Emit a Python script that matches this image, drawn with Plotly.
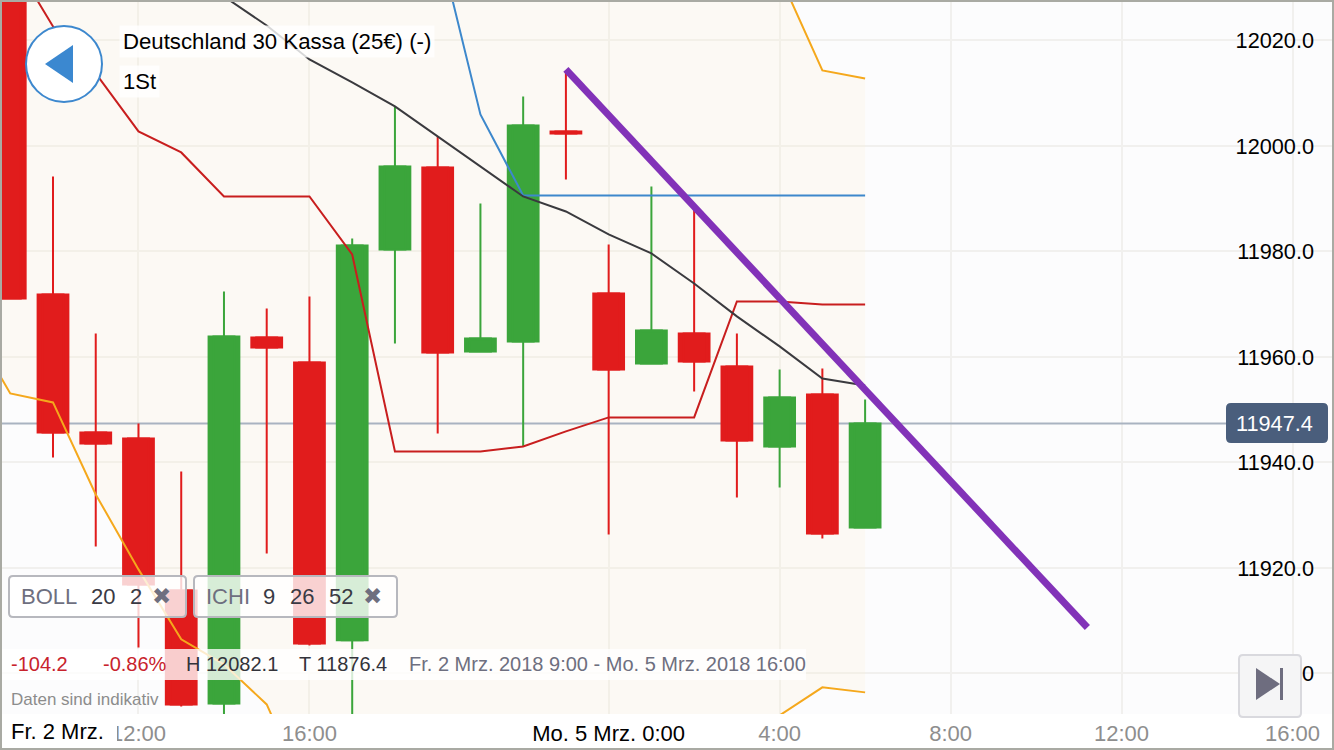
import plotly.graph_objects as go

# ---- data ----
hours = list(range(21))
band_hours = list(range(-1, 21))
opens = [12040.0, 11971.85, 11945.68, 11944.55, 11915.73, 11894.31, 11963.69, 11958.96, 11906.26, 11980.38, 11995.92,
         11961.04, 11962.94, 12002.75, 11972.04, 11958.77, 11964.45, 11958.2, 11943.03, 11952.89, 11927.68]
closes = [11971.09, 11945.68, 11943.6, 11916.87, 11894.12, 11963.88, 11961.8, 11905.69, 11981.14, 11996.11, 11960.85,
          11963.51, 12003.88, 12002.37, 11957.63, 11965.02, 11959.15, 11944.17, 11952.32, 11926.54, 11947.4]
highs = [12045.0, 11994.22, 11964.45, 11947.39, 11938.29, 11972.42, 11969.19, 11971.47, 11982.46, 12007.49, 12001.8,
         11989.1, 12009.38, 12014.12, 11981.32, 11992.32, 11988.91, 11964.45, 11957.63, 11957.82, 11951.94]
lows = [11970.9, 11940.95, 11924.07, 11904.93, 11893.74, 11891.28, 11922.75, 11905.31, 11890.33, 11962.56, 11945.5,
        11960.85, 11943.03, 11993.65, 11926.35, 11958.58, 11953.46, 11933.36, 11935.26, 11925.59, 11927.68]
boll_mid = [12061.89, 12054.31, 12047.67, 12041.04, 12034.4, 12028.34, 12022.84, 12016.4, 12012.04, 12007.49, 12001.8,
            11996.11, 11990.42, 11987.58, 11983.22, 11979.62, 11973.93, 11967.68, 11961.99, 11955.92, 11954.6]
ichi_red = [12036.11, 12022.65, 12013.74, 12002.75, 11998.77, 11990.42, 11990.42, 11990.42, 11979.43, 11942.08, 11942.08,
            11942.08, 11943.03, 11945.88, 11948.53, 11948.53, 11948.53, 11970.52, 11970.52, 11969.95, 11969.95]
ichi_blue = [None, None, None, None, None, None, None, None, None, 12052.41, 12039.14,
             12005.97, 11990.61, 11990.61, 11990.61, 11990.61, 11990.61, 11990.61, 11990.61, 11990.61, 11990.61]
boll_upper = [12070, 12072, 12070, 12066, 12062, 12058, 12056, 12055, 12054, 12054, 12053, 12052,
              12052, 12052, 12052, 12052, 12052, 12050, 12046.7, 12032.32, 12014.31, 12012.79]
boll_lower = [11967.1, 11953.08, 11951.37, 11933.93, 11919.72, 11906.45, 11901.71, 11894.12, 11876, 11872, 11870, 11869,
              11868, 11867, 11866, 11868, 11874, 11878, 11886.92, 11892.04, 11897.35, 11896.4]
trend_x = [13.0, 25.2]
trend_y = [12014.5, 11908.7]
last_price = 11947.4
price_line_x = [-1, 28.5]
y_ticks = [11900, 11920, 11940, 11960, 11980, 12000, 12020]
x_ticks = [3, 7, 14, 18, 22, 26, 30]
x_labels = ["12:00", "16:00", '<span style="color:#000000">Mo. 5 Mrz. 0:00</span>', "4:00", "8:00", "12:00", "16:00"]

W, H, PLOT_H = 1334, 750, 714
FONT = "Liberation Sans"
X_RANGE = [-0.24, 30.97]
Y_RANGE = [11892.3, 12027.67]
UP, DOWN = "#3ba53b", "#e11c1c"


def px(x):
    return x / W


def py(y):
    return (PLOT_H - y) / PLOT_H


def rrect(x0, y0, x1, y1, r):
    a, b, c, d = px(x0), py(y0), px(x1), py(y1)
    rx, ry = r / W, r / PLOT_H
    return (f"M{a + rx},{b} L{c - rx},{b} Q{c},{b} {c},{b - ry} L{c},{d + ry} Q{c},{d} {c - rx},{d} "
            f"L{a + rx},{d} Q{a},{d} {a},{d + ry} L{a},{b - ry} Q{a},{b} {a + rx},{b} Z")


def poly(points):
    return "M" + " L".join(f"{px(x)},{py(y)}" for x, y in points) + " Z"


fig = go.Figure()

# band fill and price line on the base subplot, under the candles
fig.add_trace(go.Scatter(x=band_hours, y=boll_upper, mode="lines", line=dict(width=0, color="rgba(0,0,0,0)"),
                         hoverinfo="skip", showlegend=False))
fig.add_trace(go.Scatter(x=band_hours, y=boll_lower, mode="lines", line=dict(width=0, color="rgba(0,0,0,0)"),
                         fill="tonexty", fillcolor="rgba(253,240,210,0.2)", hoverinfo="skip", showlegend=False))
fig.add_trace(go.Scatter(x=price_line_x, y=[last_price, last_price], mode="lines",
                         line=dict(color="#a9b3c1", width=2), hoverinfo="skip", showlegend=False))

# candle bodies at full width, then wicks, then lines, all on the overlaid subplot
candle_colors = [UP if c >= o else DOWN for o, c in zip(opens, closes)]
fig.add_trace(go.Bar(x=hours, y=[abs(c - o) for o, c in zip(opens, closes)],
                     base=[min(o, c) for o, c in zip(opens, closes)], width=0.72, yaxis="y2",
                     marker=dict(color=candle_colors, line=dict(width=2, color=candle_colors)),
                     hoverinfo="skip", showlegend=False))
fig.add_trace(go.Candlestick(x=hours, open=opens, high=highs, low=lows, close=closes, yaxis="y2",
                             increasing=dict(line=dict(color=UP, width=2), fillcolor=UP),
                             decreasing=dict(line=dict(color=DOWN, width=2), fillcolor=DOWN),
                             whiskerwidth=0, hoverinfo="skip", showlegend=False))
for xs, ys, color, width in [
    (band_hours, boll_upper, "#f5a81c", 2),
    (band_hours, boll_lower, "#f5a81c", 2),
    (hours, ichi_red, "#c81e1e", 2),
    (hours, ichi_blue, "#3d88cc", 2),
    (hours, boll_mid, "#3a3a3e", 2),
    (trend_x, trend_y, "#8232b8", 7),
]:
    fig.add_trace(go.Scatter(x=xs, y=ys, mode="lines", yaxis="y2", line=dict(color=color, width=width),
                             hoverinfo="skip", showlegend=False, connectgaps=False))

shapes = [
    # white strip left of the first date label
    dict(type="rect", xref="paper", yref="paper", x0=px(0), x1=px(117), y0=py(748), y1=py(714),
         fillcolor="#ffffff", line=dict(width=0), layer="above"),
    # stats band
    dict(type="rect", xref="paper", yref="paper", x0=px(0), x1=px(806), y0=py(680), y1=py(649),
         fillcolor="rgba(255,255,255,0.78)", line=dict(width=0), layer="above"),
    # back button
    dict(type="circle", xref="paper", yref="paper", x0=px(26), x1=px(102), y0=py(102), y1=py(26),
         fillcolor="#ffffff", line=dict(color="#3d88ce", width=2), layer="above"),
    dict(type="path", xref="paper", yref="paper", path=poly([(45, 64), (73, 45), (73, 83)]),
         fillcolor="#3b88d0", line=dict(width=0), layer="above"),
    # indicator boxes
    dict(type="path", xref="paper", yref="paper", path=rrect(9, 576, 186, 617, 4),
         fillcolor="rgba(255,255,255,0.8)", line=dict(color="#b7b8be", width=2), layer="above"),
    dict(type="path", xref="paper", yref="paper", path=rrect(194, 576, 397, 617, 4),
         fillcolor="rgba(255,255,255,0.8)", line=dict(color="#b7b8be", width=2), layer="above"),
    # price badge
    dict(type="path", xref="paper", yref="paper", path=rrect(1226, 403, 1328, 443, 5),
         fillcolor="#4a5e7c", line=dict(width=0), layer="above"),
    # jump to end button
    dict(type="path", xref="paper", yref="paper", path=rrect(1239, 655, 1301, 717, 4),
         fillcolor="#f5f5f6", line=dict(color="#d9d9de", width=2), layer="above"),
    dict(type="path", xref="paper", yref="paper", path=poly([(1256, 668), (1256, 700), (1280, 684)]),
         fillcolor="#6e6d7f", line=dict(width=0), layer="above"),
    dict(type="rect", xref="paper", yref="paper", x0=px(1280), x1=px(1283), y0=py(700), y1=py(668),
         fillcolor="#6e6d7f", line=dict(width=0), layer="above"),
    # outer frame
    dict(type="rect", xref="paper", yref="paper", x0=0, x1=1, y0=py(H), y1=py(0),
         fillcolor="rgba(0,0,0,0)", line=dict(color="#a9aaa3", width=4), layer="above"),
]


def label(text, x, y, size=20, color="#000000", bg=None, anchor="left", family=FONT):
    return dict(text=text, xref="paper", yref="paper", x=px(x), y=py(y), xanchor=anchor, yanchor="middle",
                showarrow=False, font=dict(family=family, size=size, color=color), borderpad=3,
                bgcolor=bg or "rgba(0,0,0,0)")


annotations = [
    label("Deutschland 30 Kassa (25€) (-)", 119, 41, 22.2, bg="rgba(255,255,255,0.8)"),
    label("1St", 119, 81, 22, bg="rgba(255,255,255,0.8)"),
    label("BOLL", 17, 596, 22, "#6e6f7f"),
    label("20", 87, 596, 22, "#3a3a44"),
    label("2", 126, 596, 22, "#3a3a44"),
    label("✖", 148, 596, 23, "#6e6f7f", family="DejaVu Sans"),
    label("ICHI", 202, 596, 22, "#6e6f7f"),
    label("9", 259, 596, 22, "#3a3a44"),
    label("26", 286, 596, 22, "#3a3a44"),
    label("52", 325, 596, 22, "#3a3a44"),
    label("✖", 359, 596, 23, "#6e6f7f", family="DejaVu Sans"),
    label("-104.2", 7, 664, 20, "#c8232c"),
    label("-0.86%", 99, 664, 20, "#c8232c"),
    label("H 12082.1", 182, 664, 20, "#33333a"),
    label("T 11876.4", 295, 664, 20, "#33333a"),
    label("Fr. 2 Mrz. 2018 9:00 - Mo. 5 Mrz. 2018 16:00", 405, 664, 20, "#6e6f7f"),
    label("Daten sind indikativ", 7, 699, 17, "#8c8c8c"),
    label("Fr. 2 Mrz.", 7, 732, 22, "#000000"),
    label(f"{last_price:.1f}", 1232, 423, 21.7, "#ffffff"),
]

fig.update_layout(
    width=W, height=H, margin=dict(l=0, r=0, t=0, b=H - PLOT_H),
    paper_bgcolor="#ffffff", plot_bgcolor="#fcfcfd",
    font=dict(family=FONT, size=21, color="#000000"),
    showlegend=False, hovermode=False, dragmode=False,
    shapes=shapes, annotations=annotations,
    xaxis=dict(range=X_RANGE, tickmode="array", tickvals=x_ticks, ticktext=x_labels,
               tickfont=dict(family=FONT, size=22, color="#8e8e8e"), ticks="",
               showgrid=True, gridcolor="#f1f0ee", gridwidth=2, zeroline=False, showline=False,
               rangeslider=dict(visible=False), ticklabelstandoff=4),
    yaxis=dict(range=Y_RANGE, side="right", tickmode="array", tickvals=y_ticks, showticklabels=False, ticks="",
               showgrid=True, gridcolor="#f1f0ee", gridwidth=2, zeroline=False, showline=False),
    yaxis2=dict(range=Y_RANGE, overlaying="y", anchor="free", side="left", position=1314 / W,
                tickmode="array", tickvals=y_ticks, tickformat=".1f", ticks="",
                tickfont=dict(family=FONT, size=21.7, color="#000000"),
                showgrid=False, zeroline=False, showline=False),
)

fig.write_html("out.html", config=dict(displayModeBar=False, staticPlot=True),
               post_script="document.body.style.margin='0';document.body.style.overflow='hidden';")
